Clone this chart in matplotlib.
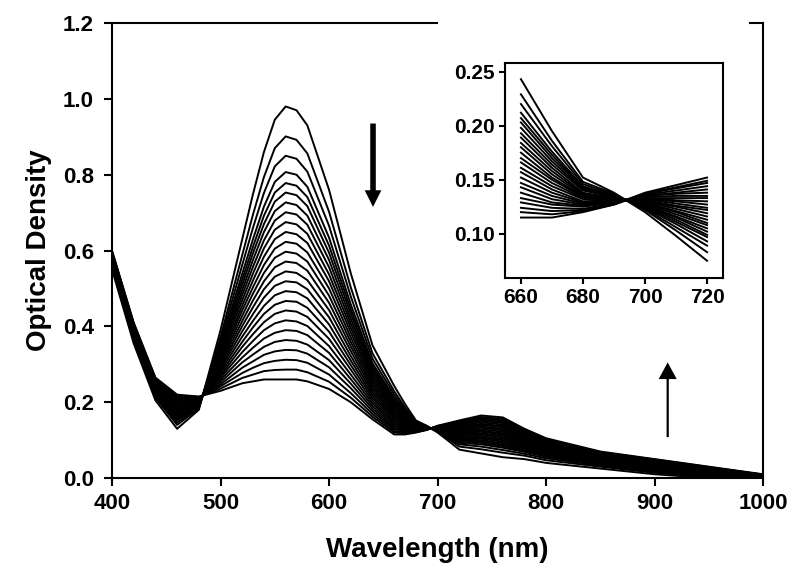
import numpy as np
import matplotlib
matplotlib.use("Agg")
import matplotlib.pyplot as plt
from matplotlib.lines import Line2D

plt.rcParams['font.family'] = ['Liberation Sans', 'DejaVu Sans']
plt.rcParams['font.weight'] = 'bold'

# wavelength grid (nm)
wavelengths = [400, 420, 440, 460, 480, 500, 520, 530, 540, 550, 560, 570, 580, 600, 620, 640,
               660, 670, 680, 690, 700, 710, 720, 740, 760, 780, 800, 850, 900, 950, 1000]

# optical density at each wavelength, one value per scan (first scan -> last scan)
od_400 = [0.550, 0.556, 0.559, 0.562, 0.564, 0.566, 0.568, 0.569, 0.571, 0.573, 0.575, 0.577, 0.578, 0.580, 0.582, 0.584, 0.586, 0.587, 0.589, 0.591, 0.593, 0.595, 0.596, 0.598, 0.600]
od_420 = [0.355, 0.361, 0.365, 0.368, 0.370, 0.372, 0.374, 0.376, 0.378, 0.380, 0.382, 0.384, 0.386, 0.388, 0.390, 0.392, 0.394, 0.396, 0.398, 0.400, 0.402, 0.404, 0.406, 0.408, 0.410]
od_440 = [0.205, 0.212, 0.216, 0.219, 0.222, 0.224, 0.226, 0.228, 0.231, 0.233, 0.235, 0.237, 0.239, 0.241, 0.244, 0.246, 0.248, 0.250, 0.252, 0.254, 0.257, 0.259, 0.261, 0.263, 0.265]
od_460 = [0.130, 0.140, 0.146, 0.152, 0.155, 0.158, 0.162, 0.165, 0.168, 0.171, 0.175, 0.178, 0.181, 0.184, 0.188, 0.191, 0.194, 0.197, 0.201, 0.204, 0.207, 0.210, 0.214, 0.217, 0.220]
od_480 = [0.180, 0.184, 0.186, 0.188, 0.190, 0.191, 0.192, 0.194, 0.195, 0.196, 0.197, 0.199, 0.200, 0.201, 0.202, 0.204, 0.205, 0.206, 0.207, 0.209, 0.210, 0.211, 0.212, 0.214, 0.215]
od_500 = [0.390, 0.372, 0.361, 0.352, 0.345, 0.339, 0.334, 0.328, 0.322, 0.316, 0.311, 0.305, 0.299, 0.293, 0.288, 0.282, 0.276, 0.270, 0.265, 0.259, 0.253, 0.247, 0.242, 0.236, 0.230]
od_520 = [0.630, 0.588, 0.562, 0.539, 0.524, 0.510, 0.496, 0.483, 0.469, 0.455, 0.442, 0.428, 0.414, 0.401, 0.387, 0.373, 0.359, 0.346, 0.332, 0.318, 0.305, 0.291, 0.277, 0.264, 0.250]
od_530 = [0.750, 0.696, 0.661, 0.631, 0.611, 0.594, 0.576, 0.558, 0.540, 0.522, 0.504, 0.487, 0.469, 0.451, 0.433, 0.415, 0.398, 0.380, 0.362, 0.344, 0.326, 0.308, 0.291, 0.273, 0.255]
od_540 = [0.860, 0.794, 0.752, 0.716, 0.692, 0.670, 0.649, 0.627, 0.606, 0.584, 0.562, 0.541, 0.519, 0.498, 0.476, 0.454, 0.433, 0.411, 0.390, 0.368, 0.346, 0.325, 0.303, 0.282, 0.260]
od_550 = [0.945, 0.870, 0.822, 0.781, 0.753, 0.729, 0.704, 0.679, 0.655, 0.630, 0.605, 0.581, 0.556, 0.531, 0.507, 0.482, 0.457, 0.433, 0.408, 0.383, 0.359, 0.334, 0.309, 0.285, 0.260]
od_560 = [0.980, 0.901, 0.850, 0.807, 0.778, 0.753, 0.727, 0.701, 0.675, 0.649, 0.623, 0.597, 0.571, 0.545, 0.519, 0.493, 0.467, 0.442, 0.416, 0.390, 0.364, 0.338, 0.312, 0.286, 0.260]
od_570 = [0.970, 0.892, 0.842, 0.800, 0.771, 0.746, 0.720, 0.695, 0.669, 0.643, 0.618, 0.592, 0.567, 0.541, 0.516, 0.490, 0.465, 0.439, 0.413, 0.388, 0.362, 0.337, 0.311, 0.286, 0.260]
od_580 = [0.930, 0.856, 0.808, 0.768, 0.741, 0.717, 0.692, 0.668, 0.644, 0.620, 0.595, 0.571, 0.547, 0.522, 0.498, 0.474, 0.449, 0.425, 0.401, 0.377, 0.352, 0.328, 0.304, 0.279, 0.255]
od_600 = [0.760, 0.702, 0.665, 0.634, 0.613, 0.594, 0.575, 0.556, 0.537, 0.519, 0.500, 0.481, 0.462, 0.443, 0.424, 0.405, 0.386, 0.367, 0.348, 0.330, 0.311, 0.292, 0.273, 0.254, 0.235]
od_620 = [0.540, 0.503, 0.479, 0.458, 0.445, 0.433, 0.420, 0.408, 0.396, 0.384, 0.371, 0.359, 0.347, 0.335, 0.322, 0.310, 0.298, 0.286, 0.273, 0.261, 0.249, 0.237, 0.224, 0.212, 0.200]
od_640 = [0.350, 0.329, 0.315, 0.303, 0.295, 0.288, 0.281, 0.274, 0.267, 0.260, 0.253, 0.246, 0.239, 0.232, 0.225, 0.218, 0.211, 0.204, 0.197, 0.190, 0.183, 0.176, 0.169, 0.162, 0.155]
od_660 = [0.243, 0.229, 0.220, 0.212, 0.207, 0.203, 0.198, 0.193, 0.189, 0.184, 0.180, 0.175, 0.170, 0.166, 0.161, 0.157, 0.152, 0.147, 0.143, 0.138, 0.133, 0.129, 0.124, 0.120, 0.115]
od_670 = [0.195, 0.186, 0.181, 0.176, 0.173, 0.170, 0.167, 0.164, 0.161, 0.158, 0.155, 0.152, 0.150, 0.147, 0.144, 0.141, 0.138, 0.135, 0.132, 0.129, 0.127, 0.124, 0.121, 0.118, 0.115]
od_680 = [0.152, 0.148, 0.146, 0.144, 0.143, 0.142, 0.141, 0.140, 0.138, 0.137, 0.136, 0.135, 0.134, 0.133, 0.132, 0.130, 0.129, 0.128, 0.127, 0.126, 0.125, 0.123, 0.122, 0.121, 0.120]
od_690 = [0.138, 0.137, 0.136, 0.135, 0.135, 0.135, 0.134, 0.134, 0.133, 0.133, 0.133, 0.132, 0.132, 0.131, 0.131, 0.131, 0.130, 0.130, 0.129, 0.129, 0.129, 0.128, 0.128, 0.127, 0.127]
od_700 = [0.120, 0.122, 0.123, 0.124, 0.125, 0.126, 0.126, 0.127, 0.128, 0.128, 0.129, 0.130, 0.130, 0.131, 0.132, 0.132, 0.133, 0.133, 0.134, 0.135, 0.135, 0.136, 0.137, 0.137, 0.138]
od_710 = [0.098, 0.103, 0.106, 0.109, 0.111, 0.113, 0.115, 0.116, 0.118, 0.120, 0.121, 0.123, 0.125, 0.126, 0.128, 0.130, 0.131, 0.133, 0.135, 0.137, 0.138, 0.140, 0.142, 0.143, 0.145]
od_720 = [0.075, 0.083, 0.089, 0.093, 0.097, 0.099, 0.102, 0.105, 0.108, 0.110, 0.113, 0.116, 0.119, 0.122, 0.124, 0.127, 0.130, 0.133, 0.135, 0.138, 0.141, 0.144, 0.147, 0.149, 0.152]
od_740 = [0.065, 0.076, 0.083, 0.089, 0.093, 0.097, 0.100, 0.104, 0.107, 0.111, 0.115, 0.118, 0.122, 0.125, 0.129, 0.133, 0.136, 0.140, 0.143, 0.147, 0.151, 0.154, 0.158, 0.161, 0.165]
od_760 = [0.055, 0.067, 0.074, 0.080, 0.084, 0.088, 0.092, 0.096, 0.100, 0.103, 0.107, 0.111, 0.115, 0.118, 0.122, 0.126, 0.130, 0.134, 0.137, 0.141, 0.145, 0.149, 0.152, 0.156, 0.160]
od_780 = [0.050, 0.059, 0.064, 0.069, 0.072, 0.075, 0.078, 0.081, 0.084, 0.087, 0.090, 0.093, 0.095, 0.098, 0.101, 0.104, 0.107, 0.110, 0.113, 0.116, 0.118, 0.121, 0.124, 0.127, 0.130]
od_800 = [0.040, 0.047, 0.052, 0.056, 0.058, 0.061, 0.063, 0.065, 0.068, 0.070, 0.072, 0.075, 0.077, 0.079, 0.082, 0.084, 0.086, 0.089, 0.091, 0.093, 0.096, 0.098, 0.100, 0.103, 0.105]
od_850 = [0.025, 0.030, 0.033, 0.036, 0.038, 0.039, 0.041, 0.042, 0.044, 0.046, 0.047, 0.049, 0.051, 0.052, 0.054, 0.055, 0.057, 0.059, 0.060, 0.062, 0.064, 0.065, 0.067, 0.068, 0.070]
od_900 = [0.010, 0.014, 0.017, 0.020, 0.021, 0.023, 0.024, 0.026, 0.027, 0.028, 0.030, 0.031, 0.033, 0.034, 0.036, 0.037, 0.038, 0.040, 0.041, 0.043, 0.044, 0.046, 0.047, 0.049, 0.050]
od_950 = [0.000, 0.003, 0.005, 0.007, 0.008, 0.010, 0.011, 0.012, 0.013, 0.014, 0.015, 0.016, 0.017, 0.018, 0.019, 0.020, 0.021, 0.022, 0.024, 0.025, 0.026, 0.027, 0.028, 0.029, 0.030]
od_1000 = [0.000, 0.001, 0.002, 0.002, 0.003, 0.003, 0.003, 0.004, 0.004, 0.005, 0.005, 0.005, 0.006, 0.006, 0.006, 0.007, 0.007, 0.007, 0.008, 0.008, 0.008, 0.009, 0.009, 0.009, 0.010]

main_yticks = [0.0, 0.2, 0.4, 0.6, 0.8, 1.0, 1.2]
main_xticks = [400, 500, 600, 700, 800, 900, 1000]
inset_xticks = [660, 680, 700, 720]
inset_yticks = [0.10, 0.15, 0.20, 0.25]

columns = [od_400, od_420, od_440, od_460, od_480, od_500, od_520, od_530, od_540, od_550,
           od_560, od_570, od_580, od_600, od_620, od_640, od_660, od_670, od_680, od_690,
           od_700, od_710, od_720, od_740, od_760, od_780, od_800, od_850, od_900, od_950, od_1000]
spectra = np.array(columns).T  # rows = scans


def main():
    wl = np.array(wavelengths)

    fig = plt.figure(figsize=(8, 5.83), dpi=100)
    ax = fig.add_axes([0.14, 0.18, 0.814, 0.7805])

    for scan in spectra:
        ax.plot(wl, scan, color='black', lw=1.4)

    ax.set_xlim(400, 1000)
    ax.set_ylim(0, 1.2)
    ax.set_xticks(main_xticks)
    ax.set_yticks(main_yticks)
    ax.set_yticklabels([f'{v:.1f}' for v in main_yticks])
    ax.tick_params(direction='out', length=6, width=1.5, labelsize=16, pad=5)
    ax.tick_params(axis='y', pad=7)
    for s in ['left', 'right', 'bottom']:
        ax.spines[s].set_linewidth(1.5)
    ax.spines['top'].set_visible(False)
    # top border is broken in the original figure
    for x0, x1 in [(0.0, 0.499), (0.98, 1.0)]:
        ax.add_line(Line2D([x0, x1], [1, 1], transform=ax.transAxes, color='black',
                           lw=1.5, clip_on=False))

    ax.set_xlabel('Wavelength (nm)', fontsize=20, fontweight='bold', labelpad=16)
    ax.set_ylabel('Optical Density', fontsize=20, fontweight='bold', labelpad=8)

    # arrows showing the direction of change
    ax.annotate('', xy=(640.5, 0.715), xytext=(640.5, 0.935),
                arrowprops=dict(arrowstyle='simple,head_width=0.6,head_length=0.6,tail_width=0.2',
                                mutation_scale=20, fc='black', ec='none',
                                shrinkA=0, shrinkB=0))
    ax.annotate('', xy=(912, 0.305), xytext=(912, 0.108),
                arrowprops=dict(arrowstyle='simple,head_width=0.65,head_length=0.6,tail_width=0.08',
                                mutation_scale=20, fc='black', ec='none',
                                shrinkA=0, shrinkB=0))

    # inset: zoom of the 660-720 nm region
    axin = fig.add_axes([0.631, 0.523, 0.273, 0.369])
    sel = (wl >= 660) & (wl <= 720)
    for scan in spectra:
        axin.plot(wl[sel], scan[sel], color='black', lw=1.4)
    axin.set_xlim(654.8, 725.2)
    axin.set_ylim(0.059, 0.258)
    axin.set_xticks(inset_xticks)
    axin.set_yticks(inset_yticks)
    axin.set_yticklabels([f'{v:.2f}' for v in inset_yticks])
    axin.tick_params(direction='out', length=4, width=1.5, labelsize=15, pad=3)
    for s in axin.spines.values():
        s.set_linewidth(1.5)
    axin.tick_params(top=False, right=False)

    fig.savefig('out.png', dpi=100)


if __name__ == "__main__":
    main()
